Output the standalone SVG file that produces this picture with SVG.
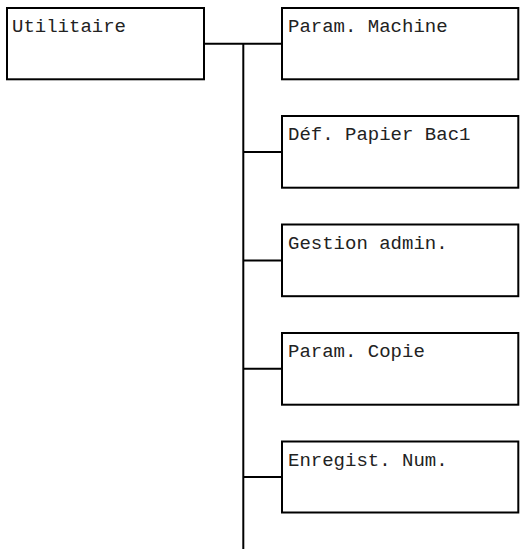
<svg xmlns="http://www.w3.org/2000/svg" width="526" height="553" viewBox="0 0 526 553">
<style>
.box{fill:#fff;stroke:#000;stroke-width:2}
.lbl{font-family:"Liberation Mono","Courier New",monospace;font-size:19px;fill:#222}
.con{stroke:#000;stroke-width:2;fill:none}
</style>
<rect width="526" height="553" fill="#fff"/>
<g id="connectors">
<line class="con" x1="204" y1="43.7" x2="283" y2="43.7"/>
<line class="con" x1="243.3" y1="43.7" x2="243.3" y2="549"/>
<line class="con" x1="243.3" y1="152" x2="282" y2="152"/>
<line class="con" x1="243.3" y1="260.5" x2="282" y2="260.5"/>
<line class="con" x1="243.3" y1="368.8" x2="282" y2="368.8"/>
<line class="con" x1="243.3" y1="477" x2="282" y2="477"/>
</g>
<g id="utilitaire">
<rect class="box" x="7" y="8" width="197" height="71.3"/>
<text class="lbl" x="12" y="32">Utilitaire</text>
</g>
<g id="param-machine">
<rect class="box" x="282" y="8" width="236.3" height="71.3"/>
<text class="lbl" x="288" y="32">Param. Machine</text>
</g>
<g id="def-papier">
<rect class="box" x="282" y="116" width="236.3" height="71.7"/>
<text class="lbl" x="288" y="140">Déf. Papier Bac1</text>
</g>
<g id="gestion-admin">
<rect class="box" x="282" y="224.5" width="236.3" height="71.7"/>
<text class="lbl" x="288" y="248.5">Gestion admin.</text>
</g>
<g id="param-copie">
<rect class="box" x="282" y="333" width="236.3" height="71.7"/>
<text class="lbl" x="288" y="357">Param. Copie</text>
</g>
<g id="enregist-num">
<rect class="box" x="282" y="441.5" width="236.3" height="71"/>
<text class="lbl" x="288" y="465.5">Enregist. Num.</text>
</g>
</svg>
